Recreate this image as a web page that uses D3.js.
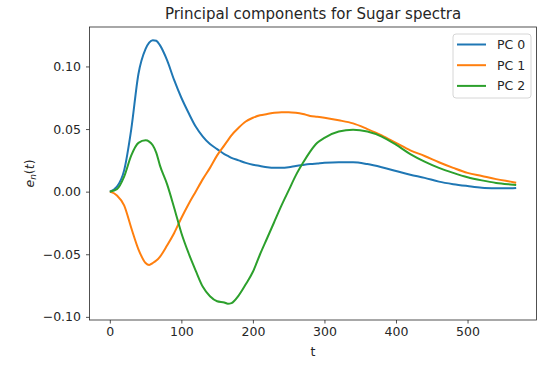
<!DOCTYPE html>
<html>
<head>
<meta charset="utf-8">
<script src="https://cdn.jsdelivr.net/npm/d3@7"></script>
<style>
  body { margin: 0; background: #fff; }
  text { font-family: "DejaVu Sans", sans-serif; fill: #262626; }
</style>
</head>
<body>
<div id="chart"></div>
<script>
// sample positions (t) and the three principal components
var t = [0, 10, 20, 30, 40, 50, 55, 60, 65, 70, 80, 90, 100, 110, 120, 130, 140, 150, 160, 165, 170, 180, 190, 200,
  210, 220, 230, 240, 250, 260, 270, 280, 290, 300, 320, 340, 360, 380, 400, 420, 440, 460, 480, 500, 520, 540, 560, 568]

var pc0 = [0, 0.004, 0.017, 0.050, 0.094, 0.114, 0.119, 0.121, 0.1205, 0.117, 0.105, 0.089, 0.075, 0.063, 0.052, 0.044,
  0.038, 0.034, 0.030, 0.0285, 0.027, 0.025, 0.023, 0.0215, 0.0205, 0.0195, 0.019, 0.019, 0.0195, 0.0205, 0.0213, 0.022,
  0.0225, 0.023, 0.0235, 0.0235, 0.022, 0.0195, 0.0165, 0.0135, 0.011, 0.008, 0.006, 0.0045, 0.0032, 0.0028, 0.0027, 0.003]

var pc1 = [0, -0.003, -0.011, -0.029, -0.046, -0.057, -0.0585, -0.057, -0.055, -0.052, -0.043, -0.033, -0.021, -0.010,
  0.000, 0.010, 0.019, 0.029, 0.037, 0.041, 0.045, 0.051, 0.056, 0.059, 0.061, 0.062, 0.063, 0.0635, 0.0635, 0.063, 0.062,
  0.0605, 0.0598, 0.059, 0.057, 0.0545, 0.050, 0.045, 0.039, 0.033, 0.0285, 0.0235, 0.019, 0.015, 0.0125, 0.010, 0.008, 0.0072]

var pc2 = [0, 0.002, 0.012, 0.029, 0.039, 0.041, 0.040, 0.037, 0.031, 0.021, 0.006, -0.013, -0.033, -0.049, -0.063, -0.076,
  -0.0835, -0.0875, -0.0885, -0.0895, -0.089, -0.083, -0.074, -0.064, -0.050, -0.037, -0.024, -0.011, 0.001, 0.013, 0.023,
  0.032, 0.039, 0.043, 0.048, 0.0495, 0.048, 0.044, 0.0375, 0.030, 0.024, 0.019, 0.015, 0.0115, 0.009, 0.007, 0.0058, 0.0054]

var names = ["PC 0", "PC 1", "PC 2"]
var colors = ["#1f77b4", "#ff7f0e", "#2ca02c"]
var xTicks = [0, 100, 200, 300, 400, 500]
var yTicks = [-0.10, -0.05, 0.00, 0.05, 0.10]

var W = 542, H = 365
// plot box (window.top is read-only, so don't call it "top")
var pL = 89.5, pR = 536.5, pT = 27, pB = 320
var fs = 12.5

var svg = d3.select("#chart")
    .append("svg")
    .attr("width", W)
    .attr("height", H)

var x = d3.scaleLinear()
    .domain([-28.4, 596.4])
    .range([pL, pR])

var y = d3.scaleLinear()
    .domain([-0.1025, 0.1315])
    .range([pB, pT])

var fmtMinus = d => d3.format(".2f")(d).replace("-", "\u2212")

svg.append("g")
    .attr("transform", "translate(0," + pB + ")")
    .call(d3.axisBottom(x).tickValues(xTicks).tickSize(3.5).tickPadding(4).tickFormat(d3.format("d")))
svg.append("g")
    .attr("transform", "translate(" + pL + ",0)")
    .call(d3.axisLeft(y).tickValues(yTicks).tickSize(3.5).tickPadding(5).tickFormat(fmtMinus))

svg.selectAll(".domain").remove()
svg.selectAll(".tick line").attr("stroke", "#262626").attr("stroke-width", 0.8)
svg.selectAll(".tick text").style("font-size", fs + "px").style("fill", "#262626")

var series = [pc0, pc1, pc2]
var line = d3.line()
    .x((d, i) => x(t[i]))
    .y(d => y(d))
    .curve(d3.curveMonotoneX)

svg.append("clipPath").attr("id", "clip")
    .append("rect").attr("x", pL).attr("y", pT).attr("width", pR - pL).attr("height", pB - pT)

svg.append("g").attr("clip-path", "url(#clip)")
    .selectAll("path")
    .data(series)
    .join("path")
    .attr("d", line)
    .attr("fill", "none")
    .attr("stroke", (d, i) => colors[i])
    .attr("stroke-width", 2)

// frame
svg.append("rect")
    .attr("x", pL).attr("y", pT)
    .attr("width", pR - pL).attr("height", pB - pT)
    .attr("fill", "none").attr("stroke", "#262626").attr("stroke-width", 0.8)

// title and labels
svg.append("text")
    .attr("x", (pL + pR) / 2).attr("y", 19)
    .attr("text-anchor", "middle")
    .style("font-size", "15px")
    .text("Principal components for Sugar spectra")

svg.append("text")
    .attr("x", (pL + pR) / 2).attr("y", 356)
    .attr("text-anchor", "middle")
    .style("font-size", fs + "px")
    .text("t")

var yl = svg.append("text")
    .attr("transform", "translate(34," + ((pT + pB) / 2) + ") rotate(-90)")
    .attr("text-anchor", "middle")
    .style("font-size", fs + "px")
yl.append("tspan").style("font-style", "italic").text("e")
yl.append("tspan").style("font-style", "italic").style("font-size", "9px").attr("dy", 2).text("n")
yl.append("tspan").attr("dy", -2).text("(")
yl.append("tspan").style("font-style", "italic").text("t")
yl.append("tspan").text(")")

// legend
var lg = svg.append("g")
lg.append("rect")
    .attr("x", 453).attr("y", 34).attr("width", 78).attr("height", 64).attr("rx", 3)
    .attr("fill", "#fff").attr("fill-opacity", 0.8)
    .attr("stroke", "#cccccc").attr("stroke-width", 0.8)

var items = lg.selectAll("g.item")
    .data(names)
    .join("g")
    .attr("class", "item")
    .attr("transform", (d, i) => "translate(0," + (44.5 + i * 20.7) + ")")

items.append("line")
    .attr("x1", 457).attr("x2", 486)
    .attr("stroke", (d, i) => colors[i]).attr("stroke-width", 2)

items.append("text")
    .attr("x", 497).attr("y", 4.5)
    .style("font-size", fs + "px")
    .text(d => d)
</script>
</body>
</html>
